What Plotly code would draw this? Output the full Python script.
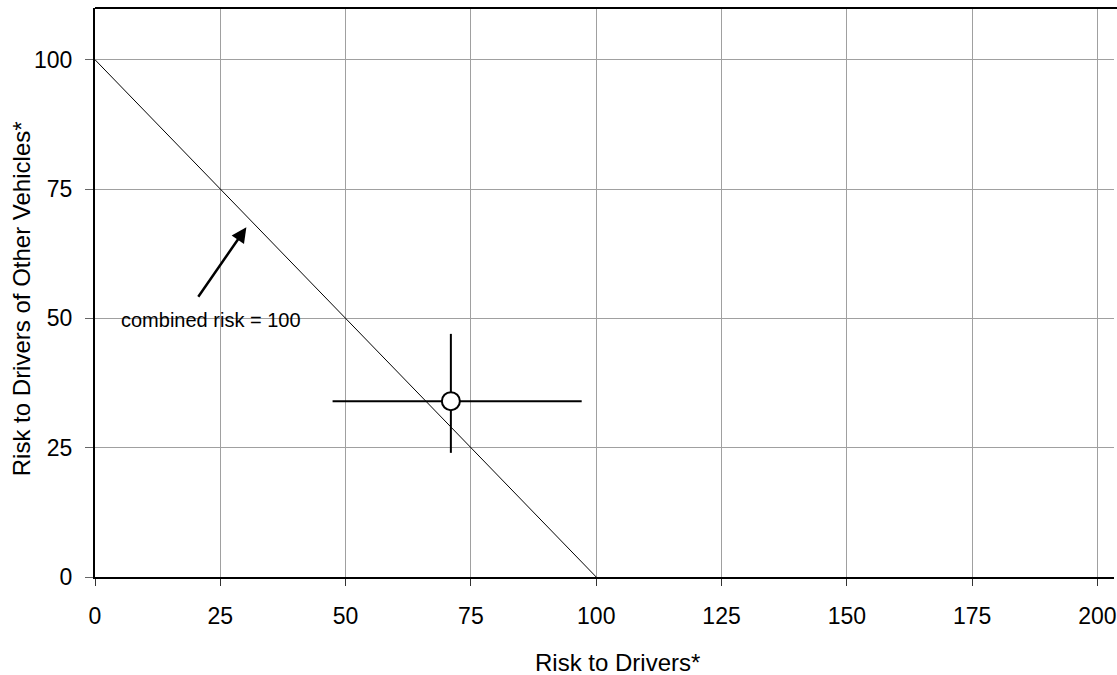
import plotly.graph_objects as go

# Data
point_x = [71.0]
point_y = [34.0]
x_err_plus = [26.1]
x_err_minus = [23.6]
y_err_plus = [13.0]
y_err_minus = [10.0]

line_x = [0, 100]
line_y = [100, 0]

x_ticks = [0, 25, 50, 75, 100, 125, 150, 175, 200]
y_ticks = [0, 25, 50, 75, 100]

annot_text = "combined risk = 100"
x_title = "Risk to Drivers*"
y_title = "Risk to Drivers of Other Vehicles*"

FONT = "Liberation Sans, Arial, sans-serif"

fig = go.Figure()

fig.add_trace(go.Scatter(
    x=line_x, y=line_y, mode="lines",
    line=dict(color="black", width=1),
    showlegend=False, hoverinfo="skip",
))

fig.add_trace(go.Scatter(
    x=point_x, y=point_y, mode="markers",
    marker=dict(size=18, color="white", line=dict(color="black", width=2)),
    error_x=dict(type="data", symmetric=False, array=x_err_plus, arrayminus=x_err_minus,
                 color="black", thickness=2, width=0),
    error_y=dict(type="data", symmetric=False, array=y_err_plus, arrayminus=y_err_minus,
                 color="black", thickness=2, width=0),
    showlegend=False,
))

# Arrow
fig.add_annotation(
    x=30.2, y=67.6, ax=20.4, ay=53.9, xref="x", yref="y", axref="x", ayref="y",
    text="", showarrow=True, arrowhead=2, arrowsize=1.2, arrowwidth=2.5, arrowcolor="black",
)
fig.add_annotation(
    x=23.1, y=49.7, xref="x", yref="y", text=annot_text, showarrow=False,
    font=dict(family=FONT, size=20, color="black"), xanchor="center", yanchor="middle",
)
# Axis titles
fig.add_annotation(
    x=104.2, y=-0.0, xref="x", yref="paper", yshift=-85, text=x_title, showarrow=False,
    font=dict(family=FONT, size=24, color="black"), xanchor="center", yanchor="middle",
)
fig.add_annotation(
    x=0, y=53.7, xref="paper", yref="y", xshift=-74, text=y_title, showarrow=False,
    textangle=-90, font=dict(family=FONT, size=24, color="black"),
    xanchor="center", yanchor="middle",
)

# top border of plot area
fig.add_shape(type="line", xref="paper", yref="paper", x0=0, x1=1.02, y0=1, y1=1,
              line=dict(color="black", width=2))

fig.update_layout(
    width=1117, height=675,
    margin=dict(l=95, r=0, t=8, b=98),
    plot_bgcolor="white", paper_bgcolor="white",
    font=dict(family=FONT, size=23, color="black"),
    xaxis=dict(
        range=[0, 203.3], tickmode="array", tickvals=x_ticks,
        showgrid=True, gridcolor="#a0a0a0", gridwidth=1,
        showline=True, linecolor="black", linewidth=2, mirror=False,
        ticks="outside", ticklen=7, tickcolor="#333", tickwidth=1,
        ticklabelstandoff=10, zeroline=False, ticklabeloverflow="allow",
    ),
    yaxis=dict(
        range=[0, 110], tickmode="array", tickvals=y_ticks,
        showgrid=True, gridcolor="#a0a0a0", gridwidth=1,
        showline=True, linecolor="black", linewidth=2, mirror=False,
        ticks="outside", ticklen=8, tickcolor="#666", tickwidth=1,
        ticklabelstandoff=8, zeroline=False,
    ),
)

fig.write_html("out.html")
